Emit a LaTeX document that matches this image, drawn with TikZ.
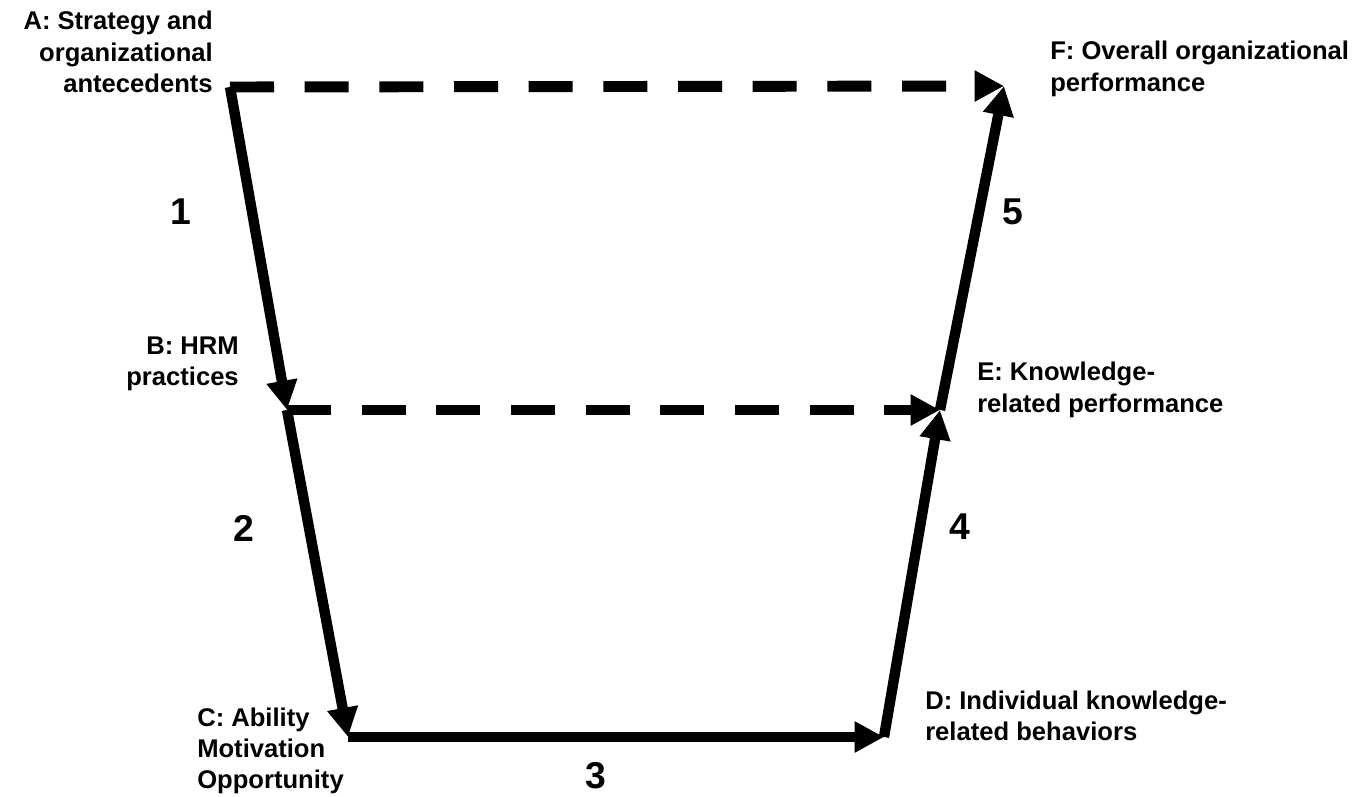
\documentclass[tikz,border=0pt]{standalone}
\usepackage{fontspec}
\setmainfont{Liberation Sans}
\usetikzlibrary{arrows.meta}
\begin{document}
\begin{tikzpicture}[x=0.75pt,y=-0.75pt,
  lbl/.style={font=\fontsize{19.2}{23.5}\selectfont\bfseries, inner sep=0pt},
  num/.style={font=\fontsize{28}{30}\selectfont\bfseries, inner sep=0pt},
  link/.style={line width=7.8pt, line cap=butt, -{Triangle[length=22pt,width=22pt]}},
  dlink/.style={line width=8.2pt, line cap=butt, dash pattern=on 33pt off 23pt, -{Triangle[length=22pt,width=22pt]}}]
\useasboundingbox (0,0) rectangle (1367,796);
\coordinate (A) at (230,87);
\coordinate (B) at (287,410);
\coordinate (C) at (348,737);
\coordinate (D) at (884,737);
\coordinate (E) at (940,410);
\coordinate (F) at (1004,86);
% labels
\node[lbl, align=right, anchor=east] (tA) at (213,52) {A: Strategy and\\organizational\\antecedents};
\node[lbl, align=left, anchor=west] (tF) at (1050,69) {F: Overall organizational\\performance};
\node[lbl, align=right, anchor=east] (tB) at (239,364) {B: HRM\\practices};
\node[lbl, align=left, anchor=west] (tE) at (977,390) {E: Knowledge-\\related performance};
\node[lbl, align=left, anchor=west] (tC) at (197,751) {C: Ability\\Motivation\\Opportunity};
\node[lbl, align=left, anchor=west] (tD) at (925,716) {D: Individual knowledge-\\related behaviors};
\node[num] (n1) at (181,212) {1};
\node[num] (n2) at (244,528) {2};
\node[num] (n3) at (596,776) {3};
\node[num] (n4) at (960,527) {4};
\node[num] (n5) at (1013,212) {5};
% connectors
\draw[dlink] (A) -- (F);
\draw[dlink] (B) -- (E);
\draw[link] (A) -- (B);
\draw[link] (B) -- (C);
\draw[link] (C) -- (D);
\draw[link] (D) -- (E);
\draw[link] (E) -- (F);
\end{tikzpicture}
\end{document}
